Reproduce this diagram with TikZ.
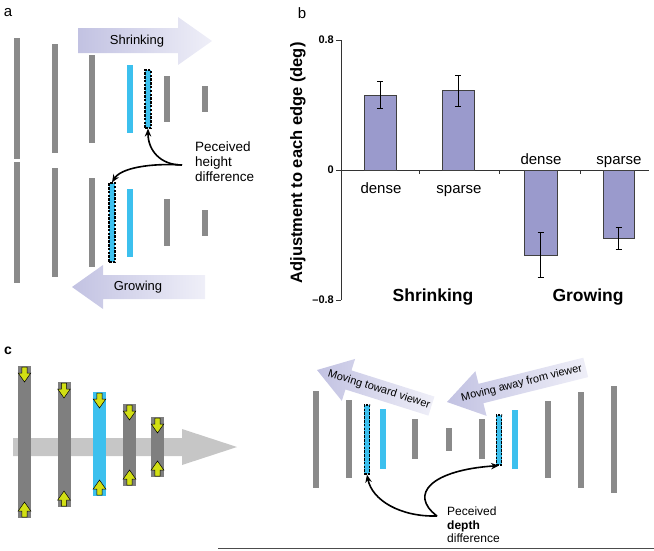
\documentclass[tikz,border=0pt]{standalone}
\usepackage{fontspec}
\setmainfont{Liberation Sans}
\usetikzlibrary{arrows.meta}
\definecolor{gbar}{HTML}{8A8A8A}
\definecolor{gbarc}{HTML}{7F7F7F}
\definecolor{cyanbar}{HTML}{3CC0EE}
\definecolor{lavA}{HTML}{C2C2E2}
\definecolor{lavB}{HTML}{EFEFF8}
\definecolor{barfill}{HTML}{9A9ACC}
\definecolor{yel}{HTML}{D2DF14}
\definecolor{lgray}{HTML}{C6C6C6}
\newcommand{\vb}[5]{\node[#1, minimum height={(#4)-(#3)}] (#5) at (#2,{((#3)+(#4))/2}) {};}
\newcommand{\yarr}[3]{\begin{scope}[shift={(#1,#2)}, yscale=#3]
 \filldraw[yarrow] (-2.7,1) -- (2.7,1) -- (2.7,7) -- (6.3,7) -- (0,16) -- (-6.3,7) -- (-2.7,7) -- cycle;
 \end{scope}}
\tikzset{
 gA/.style={inner sep=0, minimum width=6, fill=gbar},
 cA/.style={inner sep=0, minimum width=5.5, fill=cyanbar},
 dA/.style={inner sep=0, minimum width=6, fill=cyanbar, draw=black, line width=1.2pt, dash pattern=on 2.5pt off 1.3pt},
 gC/.style={inner sep=0, minimum width=13, fill=gbarc},
 cC/.style={inner sep=0, minimum width=13, fill=cyanbar},
 gR/.style={inner sep=0, minimum width=5.5, fill=gbar},
 cR/.style={inner sep=0, minimum width=5.5, fill=cyanbar},
 dR/.style={inner sep=0, minimum width=5.5, fill=cyanbar, draw=black, line width=1.2pt, dash pattern=on 2.5pt off 1.3pt},
 lav/.style={left color=lavA, right color=lavB, draw=none},
 conn/.style={-{Stealth[length=8pt,width=6.5pt]}, line width=1.6pt, black},
 yarrow/.style={fill=yel, draw=black, line width=0.5pt},
 bbar/.style={fill=barfill, draw=black!75, line width=0.7pt},
 ebar/.style={draw=black, line width=0.7pt},
 axisline/.style={draw=black!80, line width=0.7pt},
 plabel/.style={font=\fontsize{15}{17}\selectfont, inner sep=0},
}
\begin{document}
\begin{tikzpicture}[x=1pt,y=-1pt]
\useasboundingbox (0,0) rectangle (654,550);
% ---------------- panel a ----------------
\node[plabel] (la) at (8,13) {a};
\shade[lav] (78,28) -- (178,28) -- (178,17) -- (212,41) -- (178,65) -- (178,53) -- (78,53) -- cycle;
\node[font=\fontsize{13}{15}\selectfont] (shr) at (137,41) {Shrinking};
\shade[lav] (72,287) -- (103,265) -- (103,275) -- (205,275) -- (205,299) -- (103,299) -- (103,309) -- cycle;
\node[font=\fontsize{13}{15}\selectfont] (grw) at (138,287) {Growing};
\vb{gA}{17}{38}{159}{a1}
\vb{gA}{55}{44}{153}{a2}
\vb{gA}{92}{55}{143}{a3}
\vb{cA}{130}{65}{133}{a4}
\vb{dA}{148}{70}{128}{ad1}
\vb{gA}{167}{76}{122}{a6}
\vb{gA}{205}{86}{112}{a7}
\vb{gA}{17}{162}{283}{b1}
\vb{gA}{55}{168}{277}{b2}
\vb{gA}{92}{178}{267}{b3}
\vb{dA}{112}{183}{262}{ad2}
\vb{cA}{130}{189}{257}{b5}
\vb{gA}{167}{199}{246}{b6}
\vb{gA}{205}{210}{236}{b7}
\node[align=left, anchor=north west, inner sep=0, font=\fontsize{13.5}{15}\selectfont] (pa) at (195,142) {Peceived\\height\\difference};
\coordinate (ha) at (182,165);
\draw[conn] (ha) .. controls (160,165) and (148,150) .. (ad1.south);
\draw[conn] (ha) .. controls (150,163) and (121,168) .. (ad2.north);
% ---------------- panel b ----------------
\node[plabel] (lb) at (302,13) {b};
\draw[axisline] (341,40) -- (341,300);
\draw[axisline] (336,40) -- (341,40);
\draw[axisline] (336,170) -- (341,170);
\draw[axisline] (336,300) -- (341,300);
\draw[axisline] (341,170) -- (649,170);
\foreach \t in {419,499,580} \draw[axisline] (\t,170) -- (\t,174);
\node[anchor=east, font=\bfseries\fontsize{11}{13}\selectfont, inner sep=1pt] (t1) at (335,40) {0.8};
\node[anchor=east, font=\bfseries\fontsize{11}{13}\selectfont, inner sep=1pt] (t2) at (335,170) {0};
\node[anchor=east, font=\bfseries\fontsize{11}{13}\selectfont, inner sep=1pt] (t3) at (335,300) {–0.8};
\node[rotate=90, font=\bfseries\fontsize{16.5}{19}\selectfont] (yl) at (298,163) {Adjustment to each edge (deg)};
\draw[bbar] (364,170) rectangle (396,95);
\draw[bbar] (442,170) rectangle (474,90);
\draw[bbar] (524,170) rectangle (557,255);
\draw[bbar] (603,170) rectangle (634,238);
\foreach \x/\a/\b in {380/81/108, 458/75/106, 540.5/232/277, 618.5/227/249}{
  \draw[ebar] (\x,\a) -- (\x,\b);
  \draw[ebar] (\x-3,\a) -- (\x+3,\a);
  \draw[ebar] (\x-3,\b) -- (\x+3,\b);
}
\node[anchor=base, font=\fontsize{15}{17}\selectfont] (d1) at (381,193) {dense};
\node[anchor=base, font=\fontsize{15}{17}\selectfont] (s1) at (459,193) {sparse};
\node[anchor=base, font=\fontsize{15}{17}\selectfont] (d2) at (541,164) {dense};
\node[anchor=base, font=\fontsize{15}{17}\selectfont] (s2) at (619,164) {sparse};
\node[anchor=base, font=\bfseries\fontsize{17.5}{20}\selectfont] (gs) at (433,301) {Shrinking};
\node[anchor=base, font=\bfseries\fontsize{17.5}{20}\selectfont] (gg) at (588,301) {Growing};
% ---------------- panel c left ----------------
\node[plabel, font=\bfseries\fontsize{14}{16}\selectfont] (lc) at (8,351) {c};
\fill[lgray] (13,438) -- (182,438) -- (182,429) -- (237,447) -- (182,465) -- (182,456) -- (13,456) -- cycle;
\vb{gC}{24.5}{366}{518}{c1}
\vb{gC}{64}{382}{507}{c2}
\vb{cC}{99.5}{392}{496}{c3}
\vb{gC}{129.5}{404}{486}{c4}
\vb{gC}{157.5}{417}{477}{c5}
\yarr{24.5}{366}{1}\yarr{24.5}{518}{-1}
\yarr{64}{382}{1}\yarr{64}{507}{-1}
\yarr{99.5}{392}{1}\yarr{99.5}{496}{-1}
\yarr{129.5}{404}{1}\yarr{129.5}{486}{-1}
\yarr{157.5}{417}{1}\yarr{157.5}{477}{-1}
\draw[black!70, line width=0.8pt] (218,548.5) -- (654,548.5);
% ---------------- panel c right ----------------
\vb{gR}{316}{391}{488}{r1}
\vb{gR}{349}{400}{478}{r2}
\vb{dR}{367}{405}{474}{rd1}
\vb{cR}{383}{409}{469}{r4}
\vb{gR}{415}{419}{459}{r5}
\vb{gR}{449}{428}{451}{r6}
\vb{gR}{482}{419}{459}{r7}
\vb{dR}{499}{415}{465}{rd2}
\vb{cR}{515}{410}{469}{r9}
\vb{gR}{548}{401}{478}{r10}
\vb{gR}{581}{392}{488}{r11}
\vb{gR}{614}{386}{493}{r12}
\begin{scope}[shift={(317,370)}, rotate=-17.5]
\shade[lav] (0,0) -- (33,-22) -- (33,-10) -- (120,-10) -- (120,10) -- (33,10) -- (33,22) -- cycle;
\node[rotate=-17.5, font=\fontsize{11}{13}\selectfont, inner sep=0] (mt) at (65,0) {Moving toward viewer};
\end{scope}
\begin{scope}[shift={(447,402)}, rotate=14]
\shade[lav] (0,0) -- (35,-23) -- (35,-10) -- (143,-10) -- (143,10) -- (35,10) -- (35,23) -- cycle;
\node[rotate=14, font=\fontsize{11}{13}\selectfont, inner sep=0] (ma) at (77,0) {Moving away from viewer};
\end{scope}
\node[align=left, anchor=north west, inner sep=0, font=\fontsize{12}{13.5}\selectfont] (pd) at (447,507) {Peceived\\\textbf{depth}\\difference};
\coordinate (ds) at (437,516);
\draw[conn] (ds) .. controls (400,517) and (372,500) .. (rd1.south);
\draw[conn] (ds) .. controls (408,494) and (432,470) .. (rd2.south);
\end{tikzpicture}
\end{document}
